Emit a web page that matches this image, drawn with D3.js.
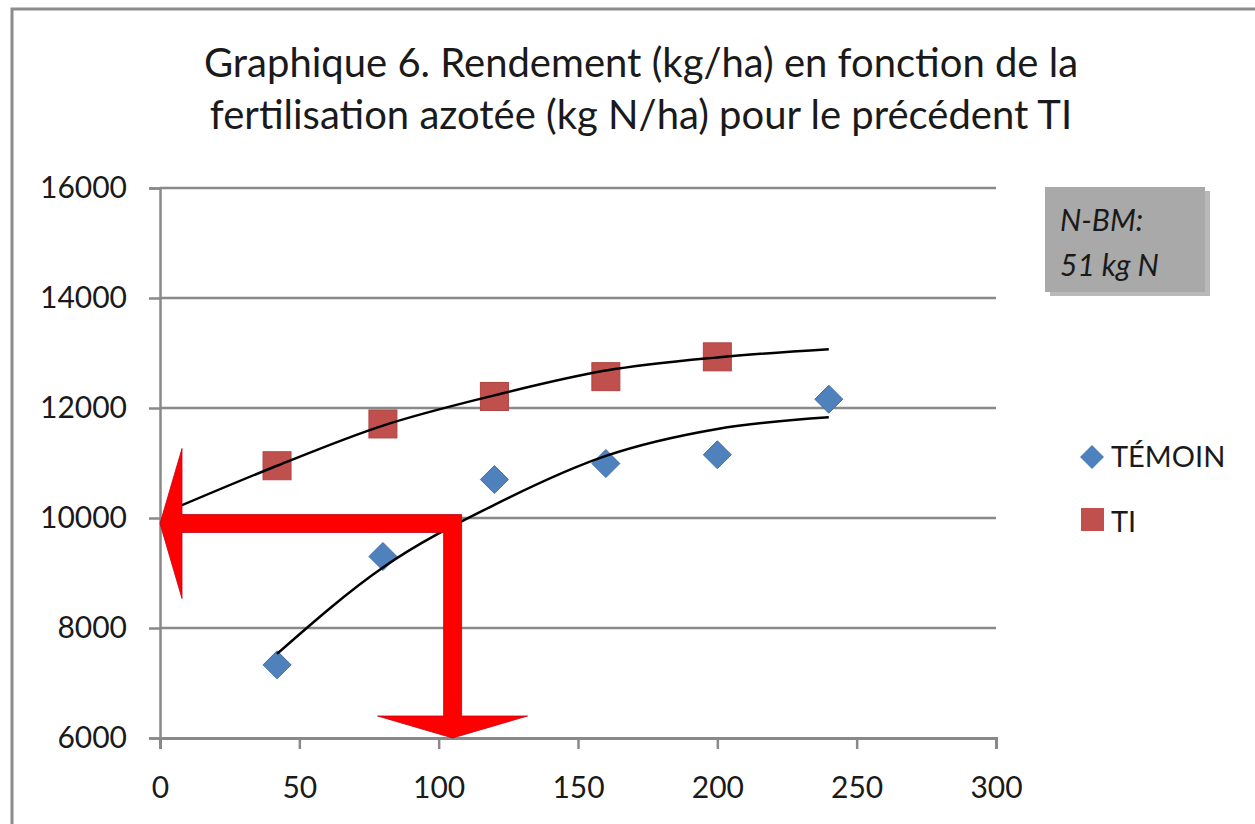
<!DOCTYPE html>
<html>
<head>
<meta charset="utf-8">
<script src="https://cdn.jsdelivr.net/npm/d3@7"></script>
<style>
  body { margin: 0; background: #fff; }
  svg text { font-family: Lato, "Open Sans", sans-serif; fill: #1a1a1a; }
</style>
</head>
<body>
<svg id="chart" width="1255" height="824"></svg>
<script>
// --- data ---
const titleLines = [
    "Graphique 6. Rendement (kg/ha) en fonction de la",
    "fertilisation azotée (kg N/ha) pour le précédent TI"
];
const xTicks = [0, 50, 100, 150, 200, 250, 300];
const yTicks = [6000, 8000, 10000, 12000, 14000, 16000];

const nDoses = [42, 80, 120, 160, 200, 240];
const temoinYield = [7330, 9300, 10700, 10990, 11150, 12160];
const tiDoses = [42, 80, 120, 160, 200];
const tiYield = [10950, 11710, 12210, 12570, 12930];

// trend curves
const temoinTrendX = [42, 80, 120, 160, 200, 240];
const temoinTrendY = [7530, 9100, 10240, 11130, 11620, 11830];
const tiTrendX = [4, 42, 80, 120, 160, 200, 240];
const tiTrendY = [10150, 10950, 11680, 12230, 12680, 12920, 13070];

// reading arrow: from N dose ~105 at ~9900 kg/ha
const arrowDose = 105;
const arrowYield = 9900;

const legendNames = ["TÉMOIN", "TI"];
const noteLines = ["N-BM:", "51 kg N"];

const blue = "#4f81bd", red = "#c0504d", grid = "#898989";

const svg = d3.select("#chart");

// outer frame (right / bottom edges fall off the picture)
svg.append("rect")
    .attr("x", 12).attr("y", 9)
    .attr("width", 1260).attr("height", 830)
    .attr("fill", "#fff")
    .attr("stroke", "#8c8c8c")
    .attr("stroke-width", 3);

// title
svg.selectAll(".title")
    .data(titleLines)
    .enter().append("text")
    .attr("class", "title")
    .attr("x", 641)
    .attr("y", (d, i) => 77 + i * 52)
    .attr("text-anchor", "middle")
    .style("font-size", "40px")
    .text(d => d);

const x = d3.scaleLinear().domain([0, 300]).range([160, 996]);
const y = d3.scaleLinear().domain([6000, 16000]).range([738, 188]);

// gridlines
svg.append("g")
    .selectAll("line")
    .data(yTicks.filter(d => d > 6000))
    .enter().append("line")
    .attr("x1", x(0)).attr("x2", x(300))
    .attr("y1", d => y(d)).attr("y2", d => y(d))
    .attr("stroke", grid)
    .attr("stroke-width", 2.5);

// y axis
const yAxis = svg.append("g")
    .attr("transform", `translate(${x(0)},0)`)
    .call(d3.axisLeft(y).tickValues(yTicks).tickFormat(d3.format("d")).tickSize(11).tickPadding(22));
yAxis.select(".domain").attr("stroke", grid).attr("stroke-width", 2.5);
yAxis.selectAll(".tick line").attr("stroke", grid).attr("stroke-width", 2.5);
yAxis.selectAll(".tick text")
    .style("font-size", "30px")
    .style("font-family", "Lato, sans-serif")
    .attr("fill", "#1a1a1a");

// x axis
const xAxis = svg.append("g")
    .attr("transform", `translate(0,${y(6000)})`)
    .call(d3.axisBottom(x).tickValues(xTicks).tickSize(11).tickPadding(28));
xAxis.select(".domain").attr("stroke", grid).attr("stroke-width", 3);
xAxis.selectAll(".tick line").attr("stroke", grid).attr("stroke-width", 2.5);
xAxis.selectAll(".tick text")
    .style("font-size", "30px")
    .style("font-family", "Lato, sans-serif")
    .attr("fill", "#1a1a1a");

// markers
const diamond = s => `M0,${-s}L${s},0L0,${s}L${-s},0Z`;

svg.append("g")
    .selectAll("path")
    .data(nDoses.map((d, i) => [d, temoinYield[i]]))
    .enter().append("path")
    .attr("d", diamond(14))
    .attr("transform", d => `translate(${x(d[0])},${y(d[1])})`)
    .attr("fill", blue)
    .attr("stroke", "#3f6fa8")
    .attr("stroke-width", 1);

svg.append("g")
    .selectAll("rect")
    .data(tiDoses.map((d, i) => [d, tiYield[i]]))
    .enter().append("rect")
    .attr("x", d => x(d[0]) - 14)
    .attr("y", d => y(d[1]) - 14)
    .attr("width", 28).attr("height", 28)
    .attr("fill", red)
    .attr("stroke", "#b04440")
    .attr("stroke-width", 1);

// trend lines
const line = d3.line()
    .x(d => x(d[0]))
    .y(d => y(d[1]))
    .curve(d3.curveMonotoneX);

[[temoinTrendX, temoinTrendY], [tiTrendX, tiTrendY]].forEach(([xs, ys]) => {
    svg.append("path")
        .datum(xs.map((d, i) => [d, ys[i]]))
        .attr("fill", "none")
        .attr("stroke", "#000")
        .attr("stroke-width", 2.5)
        .attr("d", line);
});

// red L-shaped arrow
const cx = x(arrowDose), cy = y(arrowYield);
const tipX = x(0), tipY = y(6000);
const half = 9, headLen = 22, headHalf = 75;
const arrowPath = [
    [cx + half, cy - half],
    [cx + half, tipY - headLen],
    [cx + headHalf, tipY - headLen],
    [cx, tipY],
    [cx - headHalf, tipY - headLen],
    [cx - half, tipY - headLen],
    [cx - half, cy + half],
    [tipX + headLen, cy + half],
    [tipX + headLen, cy + headHalf],
    [tipX, cy],
    [tipX + headLen, cy - headHalf],
    [tipX + headLen, cy - half]
];
svg.append("path")
    .attr("d", "M" + arrowPath.map(p => p.join(",")).join("L") + "Z")
    .attr("fill", "#ff0000")
    .attr("stroke", "#c00018")
    .attr("stroke-width", 0.8);

// legend
const legend = svg.append("g");
legend.append("path")
    .attr("d", diamond(12))
    .attr("transform", "translate(1092,457)")
    .attr("fill", blue);
legend.append("rect")
    .attr("x", 1081).attr("y", 508)
    .attr("width", 23).attr("height", 23)
    .attr("fill", red);
legend.selectAll("text")
    .data(legendNames)
    .enter().append("text")
    .attr("x", 1111)
    .attr("y", (d, i) => 467 + i * 65)
    .style("font-size", "29px")
    .text(d => d);

// note box with shadow
svg.append("rect")
    .attr("x", 1050).attr("y", 191)
    .attr("width", 160).attr("height", 105)
    .attr("fill", "#8a8a8a")
    .attr("opacity", 0.6);
svg.append("rect")
    .attr("x", 1045).attr("y", 187)
    .attr("width", 160).attr("height", 105)
    .attr("fill", "#a9a9a9");
svg.selectAll(".note")
    .data(noteLines)
    .enter().append("text")
    .attr("class", "note")
    .attr("x", 1060)
    .attr("y", (d, i) => 231 + i * 45)
    .style("font-size", "30px")
    .style("font-style", "italic")
    .text(d => d);
</script>
</body>
</html>
